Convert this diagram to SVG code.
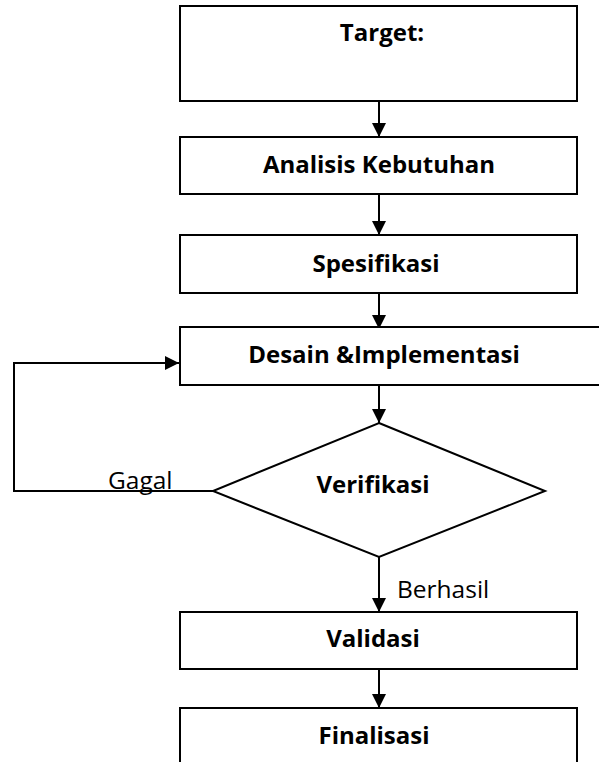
<svg xmlns="http://www.w3.org/2000/svg" width="599" height="762" viewBox="0 0 599 762">
<style>
.box{fill:#fff;stroke:#000;stroke-width:2}
.t{font-family:"Open Sans","Liberation Sans",sans-serif;font-weight:bold;font-size:24px;fill:#000;text-anchor:middle}
.lbl{font-family:"Open Sans","Liberation Sans",sans-serif;font-size:24.5px;fill:#000}
.c{fill:none;stroke:#000;stroke-width:2}
</style>
<defs>
<marker id="ah" markerUnits="userSpaceOnUse" markerWidth="14" markerHeight="14" refX="14" refY="7" orient="auto">
<path d="M0,0 L14,7 L0,14 z" fill="#000"/>
</marker>
</defs>
<rect width="599" height="762" fill="#fff"/>
<g id="connectors">
<line class="c" x1="379" y1="101" x2="379" y2="137" marker-end="url(#ah)"/>
<line class="c" x1="379" y1="194" x2="379" y2="235" marker-end="url(#ah)"/>
<line class="c" x1="379" y1="293" x2="379" y2="329" marker-end="url(#ah)"/>
<line class="c" x1="379" y1="386" x2="379" y2="423" marker-end="url(#ah)"/>
<polyline class="c" points="213,491 14,491 14,363 179,363" marker-end="url(#ah)"/>
<line class="c" x1="379" y1="557" x2="379" y2="612" marker-end="url(#ah)"/>
<line class="c" x1="379" y1="669" x2="379" y2="708" marker-end="url(#ah)"/>
<text class="lbl" x="108" y="489">Gagal</text>
<text class="lbl" x="397" y="598">Berhasil</text>
</g>
<g id="target">
<rect class="box" x="180" y="6" width="397" height="95"/>
<text class="t" x="382" y="41">Target:</text>
</g>
<g id="analisis">
<rect class="box" x="180" y="137" width="397" height="57"/>
<text class="t" x="379" y="173">Analisis Kebutuhan</text>
</g>
<g id="spesifikasi">
<rect class="box" x="180" y="235" width="397" height="58"/>
<text class="t" x="376" y="272">Spesifikasi</text>
</g>
<g id="desain">
<rect class="box" x="180" y="327" width="430" height="58"/>
<text class="t" x="384" y="363">Desain &amp;Implementasi</text>
</g>
<g id="verifikasi">
<polygon class="box" points="379,423 545,491 379,557 213,491"/>
<text class="t" x="373" y="493">Verifikasi</text>
</g>
<g id="validasi">
<rect class="box" x="180" y="612" width="397" height="57"/>
<text class="t" x="373" y="647">Validasi</text>
</g>
<g id="finalisasi">
<rect class="box" x="180" y="708" width="397" height="70"/>
<text class="t" x="374" y="744">Finalisasi</text>
</g>
</svg>
